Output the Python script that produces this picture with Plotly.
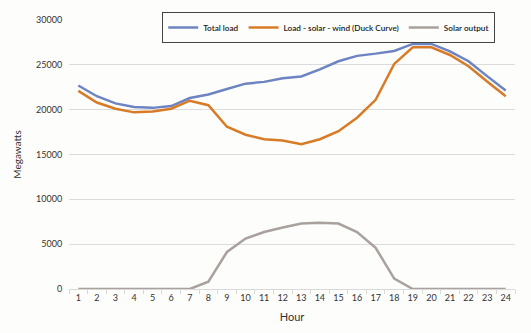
import plotly.graph_objects as go

hours = [str(h) for h in range(1, 25)]
total_load = [22700, 21500, 20700, 20300, 20200, 20400, 21300, 21700, 22300, 22900,
              23100, 23500, 23700, 24500, 25400, 26000, 26250, 26550, 27330, 27330,
              26500, 25400, 23740, 22150]
duck_curve = [22100, 20800, 20100, 19700, 19800, 20100, 21000, 20500, 18100, 17200,
              16700, 16550, 16150, 16700, 17600, 19100, 21100, 25100, 26950, 26950,
              26100, 24850, 23150, 21500]
solar_output = [0, 0, 0, 0, 0, 0, 0, 820, 4130, 5620,
                6350, 6850, 7300, 7400, 7300, 6350, 4600, 1150, 0, 0,
                0, 0, 0, 0]
y_ticks = [0, 5000, 10000, 15000, 20000, 25000, 30000]

FONT = "Lato, 'Open Sans', sans-serif"

fig = go.Figure()
fig.add_trace(go.Scatter(x=hours, y=total_load, mode="lines", name="Total load",
                         line=dict(color="#6E84C2", width=2.5)))
fig.add_trace(go.Scatter(x=hours, y=duck_curve, mode="lines",
                         name="Load - solar - wind (Duck Curve)",
                         line=dict(color="#D87B27", width=2.5)))
fig.add_trace(go.Scatter(x=hours, y=solar_output, mode="lines", name="Solar output",
                         line=dict(color="#A9A19D", width=2.5)))

fig.update_layout(
    width=531, height=333,
    margin=dict(l=69, r=16, t=18, b=44),
    paper_bgcolor="#FDFDFB", plot_bgcolor="#FDFDFB",
    font=dict(family=FONT, size=9, color="#333333"),
    showlegend=True,
    legend=dict(orientation="h", x=0.209, xanchor="left", y=1.03, yanchor="top",
                bgcolor="#FDFDFB", bordercolor="#444444", borderwidth=1,
                font=dict(size=8.2, color="#1A1A1A", weight=600), itemwidth=30,
                tracegroupgap=0),
)
fig.update_xaxes(type="category", range=[-0.5, 23.5],
                 title=dict(text="Hour", font=dict(size=11), standoff=11),
                 showgrid=False, showline=True, linecolor="#D9D9D9", linewidth=1,
                 ticks="outside", tickson="boundaries", ticklen=4, tickcolor="#D9D9D9",
                 tickangle=0, tickfont=dict(size=9))
fig.update_yaxes(range=[0, 30000], tickvals=y_ticks, tickformat="d",
                 showgrid=True, gridcolor="#DCDCDC",
                 gridwidth=1, zeroline=False, showline=False,
                 title=dict(text="Megawatts", font=dict(size=10), standoff=12),
                 tickfont=dict(size=9), ticks="outside", ticklen=4,
                 tickcolor="rgba(0,0,0,0)")

fig.write_html("out.html")
